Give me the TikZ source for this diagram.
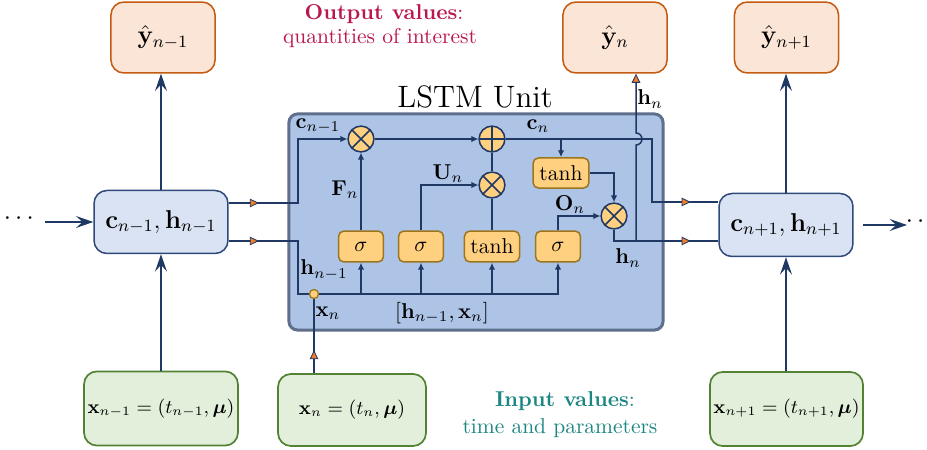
\documentclass[tikz,border=0pt]{standalone}
\usepackage{amsmath}
\usetikzlibrary{arrows.meta,decorations.markings,calc}
\definecolor{navy}{RGB}{32,56,100}
\definecolor{lstmfill}{RGB}{173,196,231}
\definecolor{lstmdraw}{RGB}{94,111,140}
\definecolor{midfill}{RGB}{218,227,243}
\definecolor{middraw}{RGB}{47,74,122}
\definecolor{outfill}{RGB}{251,229,214}
\definecolor{outdraw}{RGB}{197,90,17}
\definecolor{gatefill}{RGB}{255,208,128}
\definecolor{gatedraw}{RGB}{156,118,30}
\definecolor{infill}{RGB}{226,239,218}
\definecolor{indraw}{RGB}{84,130,53}
\definecolor{tipfill}{RGB}{240,125,40}
\definecolor{outtext}{RGB}{186,22,80}
\definecolor{intext}{RGB}{28,134,130}
\begin{document}
\begin{tikzpicture}[x=0.4651pt,y=-0.4651pt,
  outbox/.style={draw=outdraw,fill=outfill,line width=0.7pt,rounded corners=6pt,minimum width=48.4pt,minimum height=33pt,inner sep=0pt,font=\fontsize{11.5}{13}\selectfont},
  midbox/.style={draw=middraw,fill=midfill,line width=0.7pt,rounded corners=6pt,minimum width=62.3pt,minimum height=29.3pt,inner sep=0pt,font=\fontsize{11.5}{13}\selectfont},
  inbox/.style={draw=indraw,fill=infill,line width=0.8pt,rounded corners=6pt,minimum height=34.5pt,inner sep=0pt,font=\small},
  gate/.style={draw=gatedraw,fill=gatefill,line width=0.7pt,rounded corners=2.5pt,minimum width=20.9pt,minimum height=14.4pt,inner sep=0pt},
  op/.style={circle,draw=navy,fill=gatefill,line width=0.7pt,minimum size=12pt,inner sep=0pt},
  otimes/.style={op,path picture={\draw[navy,line width=0.7pt] (path picture bounding box.north west) -- (path picture bounding box.south east) (path picture bounding box.north east) -- (path picture bounding box.south west);}},
  oplus/.style={op,path picture={\draw[navy,line width=0.7pt] (path picture bounding box.north) -- (path picture bounding box.south) (path picture bounding box.west) -- (path picture bounding box.east);}},
  conn/.style={draw=navy,line width=0.9pt},
  wire/.style={draw=navy,line width=0.7pt},
  barr/.style={-{Stealth[length=8pt,width=5.5pt,inset=3pt]}},
  sarr/.style={-{Latex[length=3.2pt,width=3pt]}},
  otip/.style={-{Triangle[length=4.2pt,width=4pt,fill=tipfill,line width=0.4pt]}},
  midtip/.style={postaction={decorate},decoration={markings,mark=at position #1 with {\arrow{Triangle[length=4.2pt,width=4pt,fill=tipfill,line width=0.4pt]}}}},
  lbl/.style={inner sep=1pt}
]
\useasboundingbox (0,0) rectangle (927,450);

% LSTM unit
\node[draw=lstmdraw,fill=lstmfill,line width=1.4pt,rounded corners=4pt,minimum width=174pt,minimum height=100.5pt,inner sep=0pt] (lstm) at (476,222) {};
\node[font=\Large] (title) at (475,97) {LSTM Unit};

% outputs
\node[outbox] (y1) at (163,37.5) {$\hat{\mathbf{y}}_{n-1}$};
\node[outbox] (y2) at (615,37.5) {$\hat{\mathbf{y}}_{n}$};
\node[outbox] (y3) at (786.5,37.5) {$\hat{\mathbf{y}}_{n+1}$};

% states
\node[midbox] (lb) at (161,222) {$\mathbf{c}_{n-1},\mathbf{h}_{n-1}$};
\node[midbox] (rb) at (786,225) {$\mathbf{c}_{n+1},\mathbf{h}_{n+1}$};

% inputs
\node[inbox,minimum width=71.6pt] (x1) at (161,408.5) {$\mathbf{x}_{n-1}=(t_{n-1},\boldsymbol{\mu})$};
\node[inbox,minimum width=68.8pt,minimum height=33.5pt] (x2) at (352,410) {$\mathbf{x}_{n}=(t_{n},\boldsymbol{\mu})$};
\node[inbox,minimum width=71.2pt] (x3) at (786.5,409) {$\mathbf{x}_{n+1}=(t_{n+1},\boldsymbol{\mu})$};

% gates
\node[gate] (s1) at (361,246.5) {$\sigma$};
\node[gate] (s2) at (421,246.5) {$\sigma$};
\node[gate,minimum width=25.6pt] (th1) at (492,246.5) {tanh};
\node[gate] (s3) at (558,246.5) {$\sigma$};
\node[gate,minimum width=26pt,minimum height=14pt] (th2) at (561,173) {tanh};

% operations
\node[otimes] (fx) at (361,139) {};
\node[oplus] (px) at (492,139) {};
\node[otimes] (ix) at (492,185) {};
\node[otimes] (ox) at (614,216) {};

% coordinates
\coordinate (cin) at (289,203);
\coordinate (hin) at (289,241);
\coordinate (cout) at (663,202);
\coordinate (hout) at (663,241);
\coordinate (jn) at (314,294);
\coordinate (hj) at (636,241);
\coordinate (lstart) at (45,222);
\coordinate (rs) at (863,225);
\coordinate (re) at (907,225);

% outer connectors
\draw[conn,barr] (lstart) -- (lb.west);
\draw[conn,barr] (rs) -- (re);
\draw[conn,barr] (lb.north) -- (lb.north |- y1.south);
\draw[conn,barr] (x1.north -| lb) -- (lb.south);
\draw[conn,barr] (rb.north) -- (rb.north |- y3.south);
\draw[conn,barr] (x3.north -| rb) -- (rb.south);
\draw[conn,midtip=0.5] (lb.east |- cin) -- (cin);
\draw[conn,midtip=0.5] (lb.east |- hin) -- (hin);
\draw[conn,midtip=0.5] (cout) -- (rb.west |- cout);
\draw[conn,midtip=0.5] (hout) -- (rb.west |- hout);
\draw[conn,midtip=0.29] (x2.north -| jn) -- (jn);

% inner wires
\draw[wire,sarr] (cin) -| (298,139) -- (fx.west);
\draw[wire,sarr] (hin) -| (298,294) -| (s3.south);
\draw[wire,sarr] (s1 |- jn) -- (s1.south);
\draw[wire,sarr] (s2 |- jn) -- (s2.south);
\draw[wire,sarr] (th1 |- jn) -- (th1.south);
\draw[wire,sarr] (s1.north) -- (fx.south);
\draw[wire,sarr] (s2.north) |- (ix.west);
\draw[wire] (th1.north) -- (ix.south);
\draw[wire] (ix.north) -- (px.south);
\draw[wire,sarr] (fx.east) -- (px.west);
\draw[wire] (px.east) -- (652,139) |- (cout);
\draw[wire,sarr] (th2.north |- px) -- (th2.north);
\draw[wire,sarr] (th2.east) -| (ox.north);
\draw[wire,sarr] (s3.north) |- (ox.west);
\draw[wire] (ox.south) |- (hout);
\draw[wire,otip] (hj) -- (636,145) arc[start angle=90,end angle=-90,radius=6] -- (y2.south -| hj);

% junction dot
\node[circle,draw=gatedraw,fill=gatefill,line width=0.6pt,minimum size=4.2pt,inner sep=0pt] (dot) at (jn) {};

% labels
\node[lbl] (lc1) at (318,126) {$\mathbf{c}_{n-1}$};
\node[lbl] (lF) at (345,190) {$\mathbf{F}_{n}$};
\node[lbl] (lU) at (448,174) {$\mathbf{U}_{n}$};
\node[lbl] (lcn) at (538,126) {$\mathbf{c}_{n}$};
\node[lbl] (lO) at (570,205) {$\mathbf{O}_{n}$};
\node[lbl] (lhn) at (628,258) {$\mathbf{h}_{n}$};
\node[lbl] (lhn2) at (650,99) {$\mathbf{h}_{n}$};
\node[lbl] (lh1) at (324,270) {$\mathbf{h}_{n-1}$};
\node[lbl] (lxn) at (328,313) {$\mathbf{x}_{n}$};
\node[lbl] (lhx) at (442,313) {$[\mathbf{h}_{n-1},\mathbf{x}_{n}]$};

% side dots
\node[font=\large,inner sep=0pt] (ldots) at (21,219) {$\cdots$};
\node[font=\large,inner sep=0pt] (rdots) at (923,222) {$\cdots$};

% annotations
\node[text=outtext] (out1) at (384,14) {\textbf{Output values}:};
\node[text=outtext] (out2) at (380,38) {quantities of interest};
\node[text=intext] (in1) at (565,401) {\textbf{Input values}:};
\node[text=intext] (in2) at (560,428) {time and parameters};
\end{tikzpicture}
\end{document}
